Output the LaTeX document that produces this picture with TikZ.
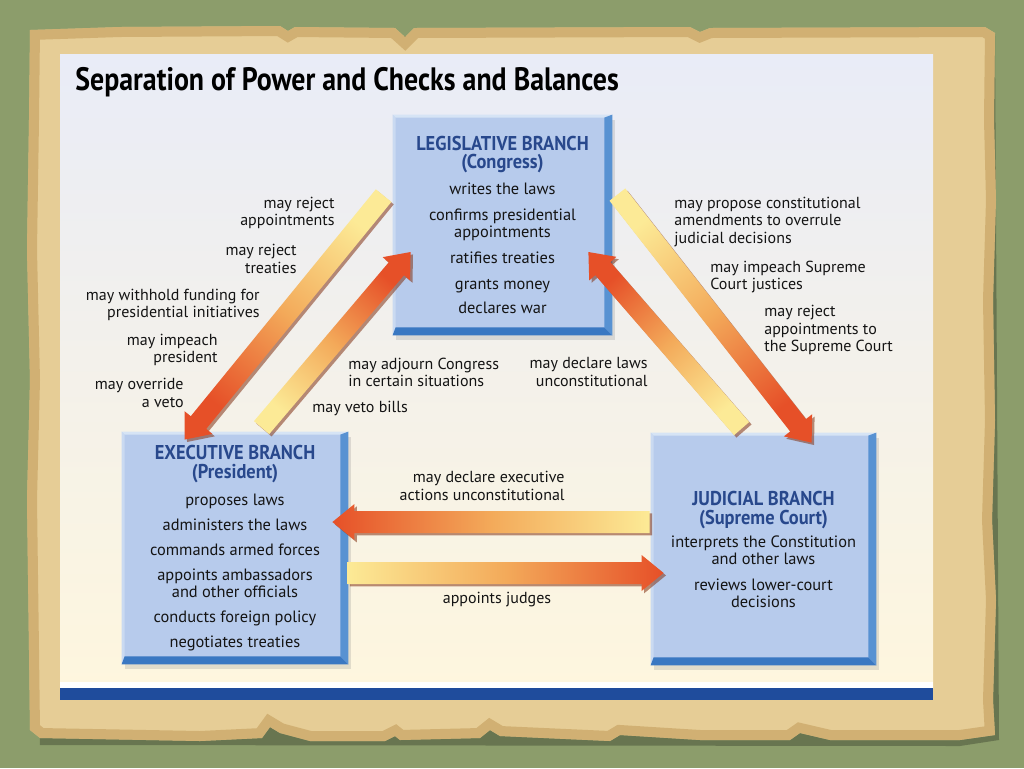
\documentclass[tikz,border=0pt]{standalone}
\usepackage{fontspec}
\setmainfont{PT Sans}
\newfontfamily\titlefont[FakeStretch=0.86]{PT Sans}
\newfontfamily\headfont[FakeStretch=0.92]{PT Sans}
\usetikzlibrary{calc, positioning, shadows}
\definecolor{feltgreen}{RGB}{140, 157, 107}
\definecolor{parchmid}{RGB}{230, 205, 150}
\definecolor{parchedge}{RGB}{196, 158, 92}
\definecolor{paneltop}{RGB}{233, 236, 247}
\definecolor{panelbot}{RGB}{254, 246, 222}
\definecolor{barblue}{RGB}{31, 76, 156}
\definecolor{faceblue}{RGB}{183, 203, 236}
\definecolor{bevelright}{RGB}{88, 146, 210}
\definecolor{bevelbottom}{RGB}{58, 120, 194}
\definecolor{bevellight}{RGB}{214, 228, 245}
\definecolor{headnavy}{RGB}{40, 72, 140}
\definecolor{arrowtail}{RGB}{252, 234, 150}
\definecolor{arrowmid}{RGB}{243, 170, 90}
\definecolor{arrowhead}{RGB}{230, 80, 40}
\definecolor{arrowedge}{RGB}{130, 50, 20}
\definecolor{inkblack}{RGB}{20, 20, 20}
\tikzset{
  branch/.style={rectangle, fill=faceblue, align=center, inner sep=0pt, text=inkblack,
    font=\fontsize{8.2}{8.5}\selectfont,
    drop shadow={shadow xshift=1.5pt, shadow yshift=-2.5pt, opacity=0.22}},
  checklabel/.style={inner sep=0pt, text=inkblack, font=\fontsize{8}{8.6}\selectfont},
  arrowshadow/.style={fill=arrowedge, opacity=0.55, transform canvas={shift={(1.2pt,-1.2pt)}}}
}
\newcommand{\bhd}[1]{\textcolor{headnavy}{\headfont\fontsize{10}{10}\selectfont\bfseries #1}}
% raised tile edges round a branch box
\newcommand{\bevel}[1]{%
  \fill[bevellight] (#1.north west) -- (#1.north east) -- ($(#1.north east)+(-8,3)$) -- ($(#1.north west)+(3,3)$) -- cycle;
  \fill[bevellight!60!faceblue] (#1.north west) -- (#1.south west) -- ($(#1.south west)+(3,-8)$) -- ($(#1.north west)+(3,3)$) -- cycle;
  \fill[bevelright] (#1.north east) -- (#1.south east) -- ($(#1.south east)+(-8,-8)$) -- ($(#1.north east)+(-8,3)$) -- cycle;
  \fill[bevelbottom] (#1.south west) -- (#1.south east) -- ($(#1.south east)+(-8,-8)$) -- ($(#1.south west)+(3,-8)$) -- cycle;
}
% wide shaded arrow: tail, tip, shaft half width
\newcommand{\fatarrow}[3]{%
  \coordinate (fa-c) at ($(#2)!11pt!(#1)$);
  \pgfmathanglebetweenpoints{\pgfpointanchor{#1}{center}}{\pgfpointanchor{#2}{center}}%
  \pgfmathsetmacro{\fashade}{\pgfmathresult-90}%
  \fill[arrowshadow] ($(#1)!#3!90:(#2)$) -- ($(fa-c)!#3!90:(#2)$) -- ($(fa-c)!9pt!90:(#2)$) -- (#2)
    -- ($(fa-c)!9pt!-90:(#2)$) -- ($(fa-c)!#3!-90:(#2)$) -- ($(#1)!#3!-90:(#2)$) -- cycle;
  \shade[bottom color=arrowtail, top color=arrowhead, middle color=arrowmid, shading angle=\fashade]
    ($(#1)!#3!90:(#2)$) -- ($(fa-c)!#3!90:(#2)$) -- ($(fa-c)!9pt!90:(#2)$) -- (#2)
    -- ($(fa-c)!9pt!-90:(#2)$) -- ($(fa-c)!#3!-90:(#2)$) -- ($(#1)!#3!-90:(#2)$) -- cycle;
}

\begin{document}
\begin{tikzpicture}[x=0.5pt, y=-0.5pt]
  \useasboundingbox (0,0) rectangle (1024,768);
  % --- BACKGROUND ---
  \fill[feltgreen] (0,0) rectangle (1024,768);
  \fill[black, opacity=0.25] (33,36) -- (995,36) -- (999,740) -- (960,746) -- (40,745) -- cycle;
  \begin{scope}
    \path[clip] (30,30) -- (120,27) -- (280,26) -- (288,31) -- (295,27) -- (395,28) -- (405,37) -- (414,28)
      -- (690,27) -- (700,32) -- (710,28) -- (985,27) -- (995,33) -- (994,120) -- (996,200) -- (993,300)
      -- (995,420) -- (992,520) -- (996,600) -- (993,700) -- (995,735) -- (960,740) -- (830,740) -- (800,733)
      -- (790,740) -- (700,740) -- (620,735) -- (610,741) -- (500,736) -- (490,730) -- (480,738) -- (400,740)
      -- (395,736) -- (385,741) -- (310,741) -- (280,733) -- (270,727) -- (262,738) -- (200,741) -- (40,738)
      -- (30,730) -- (29,650) -- (27,500) -- (30,380) -- (27,250) -- (29,120) -- cycle;
    \fill[parchmid] (0,0) rectangle (1024,768);
    \draw[parchedge, line width=10pt, opacity=0.6] (30,30) -- (120,27) -- (280,26) -- (288,31) -- (295,27) -- (395,28) -- (405,37) -- (414,28)
      -- (690,27) -- (700,32) -- (710,28) -- (985,27) -- (995,33) -- (994,120) -- (996,200) -- (993,300)
      -- (995,420) -- (992,520) -- (996,600) -- (993,700) -- (995,735) -- (960,740) -- (830,740) -- (800,733)
      -- (790,740) -- (700,740) -- (620,735) -- (610,741) -- (500,736) -- (490,730) -- (480,738) -- (400,740)
      -- (395,736) -- (385,741) -- (310,741) -- (280,733) -- (270,727) -- (262,738) -- (200,741) -- (40,738)
      -- (30,730) -- (29,650) -- (27,500) -- (30,380) -- (27,250) -- (29,120) -- cycle;
  \end{scope}

  % --- PANEL ---
  \shade[top color=paneltop, bottom color=panelbot] (60,54) rectangle (933,688);
  \fill[white] (60,682) rectangle (933,688);
  \fill[barblue] (60,688) rectangle (933,700);
  \node[anchor=west, inner sep=0pt, font=\titlefont\bfseries\fontsize{16.2}{18}\selectfont] (title) at (75,82)
    {Separation of Power and Checks and Balances};

  % --- BRANCHES ---
  \node[branch, minimum width=109.5pt, minimum height=110pt] (leg) at (502.5,225) {%
    \bhd{LEGISLATIVE BRANCH}\\[0.5pt] \bhd{(Congress)}\\[4.5pt]
    writes the laws\\[4.5pt]
    confirms presidential\\ appointments\\[4.5pt]
    ratifies treaties\\[4.5pt]
    grants money\\[3.5pt]
    declares war};
  \node[branch, minimum width=113pt, minimum height=116pt] (exe) at (235,548) {%
    \bhd{EXECUTIVE BRANCH}\\[1pt] \bhd{(President)}\\[5pt]
    proposes laws\\[4pt]
    administers the laws\\[4pt]
    commands armed forces\\[4pt]
    appoints ambassadors\\ and other officials\\[4pt]
    conducts foreign policy\\[4pt]
    negotiates treaties};
  \node[branch, minimum width=112.5pt, minimum height=116pt] (jud) at (763.5,549) {%
    \bhd{JUDICIAL BRANCH}\\[1pt] \bhd{(Supreme Court)}\\[3pt]
    interprets the Constitution\\ and other laws\\[4.5pt]
    reviews lower-court\\ decisions};
  \bevel{leg}
  \bevel{exe}
  \bevel{jud}

  % --- ARROW ENDS ---
  \coordinate (a1s) at ($(leg.north west)+(-9,81)$);
  \coordinate (a1t) at ($(exe.north west)+(63,8)$);
  \coordinate (a2s) at ($(exe.north west)+(140,-4)$);
  \coordinate (a2t) at ($(leg.west)+(18,27)$);
  \coordinate (a3s) at ($(leg.north east)+(5,80)$);
  \coordinate (a3t) at ($(jud.north west)+(161,10)$);
  \coordinate (a4s) at ($(jud.north west)+(91,-4)$);
  \coordinate (a4t) at ($(leg.east)+(-24,27)$);
  \coordinate (a5s) at ($(jud.west)+(-1,-27)$);
  \coordinate (a5t) at ($(exe.east)+(-16,-26)$);
  \coordinate (a6s) at ($(exe.east)+(-1,25)$);
  \coordinate (a6t) at ($(jud.west)+(13,24)$);

  % --- CHECKS ---
  \fatarrow{a1s}{a1t}{5pt}
  \fatarrow{a2s}{a2t}{5pt}
  \fatarrow{a3s}{a3t}{5pt}
  \fatarrow{a4s}{a4t}{5pt}
  \fatarrow{a5s}{a5t}{5.5pt}
  \fatarrow{a6s}{a6t}{5.5pt}

  % --- LABELS ---
  \node[checklabel, align=right, anchor=east] (rejapp) at (335,213) {may reject\\appointments};
  \node[checklabel, align=right, anchor=east] (rejtreat) at (297,259) {may reject\\treaties};
  \node[checklabel, align=right, anchor=east] (withhold) at (260,305) {may withhold funding for\\presidential initiatives};
  \node[checklabel, align=right, anchor=east] (imppres) at (218,350) {may impeach\\president};
  \node[checklabel, align=right, anchor=east] (override) at (184,393) {may override\\a veto};
  \node[checklabel, align=left, anchor=west] (adjourn) at (348,372) {may adjourn Congress\\in certain situations};
  \node[checklabel, align=right, anchor=east] (declaws) at (648,372) {may declare laws\\unconstitutional};
  \node[checklabel, anchor=west] (veto) at (312,408) {may veto bills};
  \node[checklabel, align=right, anchor=east] (decexec) at (565,486) {may declare executive\\actions unconstitutional};
  \node[checklabel] (appjudges) at (497,600) {appoints judges};
  \node[checklabel, align=left, anchor=west] (amend) at (674,222) {may propose constitutional\\amendments to overrule\\judicial decisions};
  \node[checklabel, align=left, anchor=west] (impsc) at (710,277) {may impeach Supreme\\Court justices};
  \node[checklabel, align=left, anchor=west] (rejsc) at (764,330) {may reject\\appointments to\\the Supreme Court};
\end{tikzpicture}
\end{document}
